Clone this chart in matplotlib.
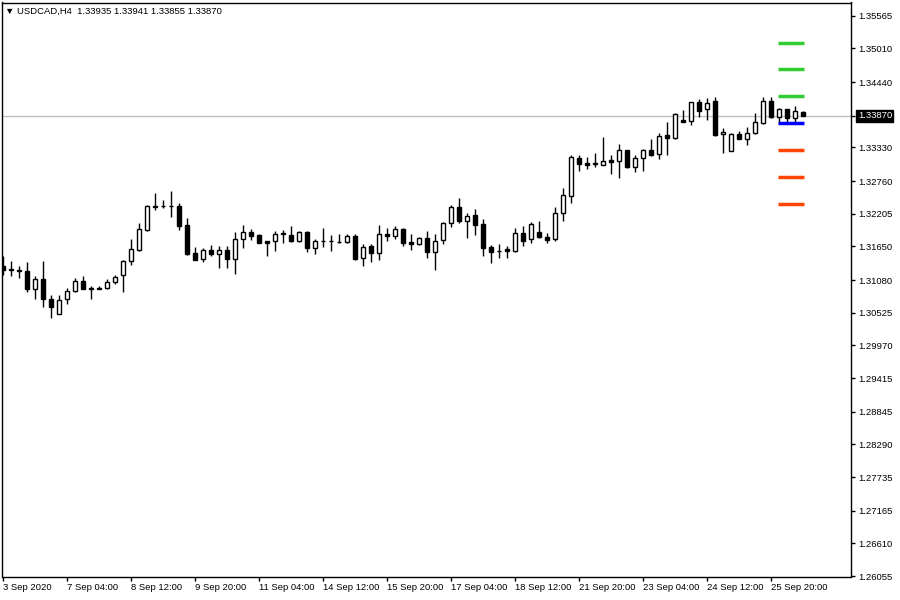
import matplotlib.pyplot as plt
import numpy as np

plt.rcParams['font.family'] = ['Liberation Sans', 'DejaVu Sans']

# USDCAD H4 bars, 3 Sep 20:00 .. 28 Sep
opens = [1.3132, 1.3126, 1.3125, 1.3124, 1.3093, 1.3110, 1.3076, 1.3051, 1.3075, 1.3090,
         1.3107, 1.3093, 1.3093, 1.3095, 1.3105, 1.3117, 1.3141, 1.3159, 1.3193, 1.3232,
         1.3233, 1.3234, 1.3234, 1.3202, 1.3154, 1.3144, 1.3159, 1.3153, 1.3159, 1.3144,
         1.3178, 1.3190, 1.3185, 1.3174, 1.3174, 1.3186, 1.3185, 1.3174, 1.3190, 1.3163,
         1.3174, 1.3175, 1.3173, 1.3173, 1.3183, 1.3146, 1.3166, 1.3154, 1.3186, 1.3183,
         1.3195, 1.3173, 1.3169, 1.3180, 1.3156, 1.3176, 1.3205, 1.3232, 1.3208, 1.3219,
         1.3203, 1.3164, 1.3158, 1.3161, 1.3158, 1.3188, 1.3178, 1.3190, 1.3181, 1.3178,
         1.3222, 1.3251, 1.3315, 1.3307, 1.3305, 1.3303, 1.3312, 1.3310, 1.3329, 1.3300,
         1.3315, 1.3329, 1.3322, 1.3354, 1.3349, 1.3380, 1.3378, 1.3410, 1.3398, 1.3412,
         1.3356, 1.3327, 1.3356, 1.3347, 1.3358, 1.3375, 1.3412, 1.3385, 1.3398, 1.3383,
         1.33935]
highs = [1.3149, 1.3141, 1.3132, 1.3139, 1.3115, 1.3141, 1.3083, 1.3083, 1.3095, 1.3112,
         1.3115, 1.3098, 1.3098, 1.3109, 1.3117, 1.3142, 1.3178, 1.3205, 1.3236, 1.3256,
         1.3244, 1.3259, 1.3239, 1.3213, 1.3164, 1.3163, 1.3168, 1.3166, 1.3166, 1.3190,
         1.3202, 1.3195, 1.3186, 1.3174, 1.3191, 1.3193, 1.3200, 1.3191, 1.3191, 1.3178,
         1.3197, 1.3185, 1.3186, 1.3186, 1.3186, 1.3169, 1.3169, 1.3202, 1.3197, 1.3200,
         1.3197, 1.3186, 1.3181, 1.3191, 1.3186, 1.3207, 1.3236, 1.3247, 1.3222, 1.3229,
         1.3212, 1.3168, 1.3169, 1.3166, 1.3197, 1.3200, 1.3207, 1.3209, 1.3188, 1.3232,
         1.3264, 1.3320, 1.3320, 1.3317, 1.3324, 1.3351, 1.3320, 1.3339, 1.3329, 1.3320,
         1.3331, 1.3347, 1.3358, 1.3376, 1.3392, 1.3397, 1.3410, 1.3415, 1.3417, 1.3419,
         1.3366, 1.3358, 1.3361, 1.3368, 1.3392, 1.3419, 1.3419, 1.3400, 1.3398, 1.3403,
         1.33941]
lows = [1.3117, 1.3115, 1.3112, 1.3088, 1.3076, 1.3062, 1.3044, 1.3051, 1.3068, 1.3087,
        1.3092, 1.3076, 1.3092, 1.3092, 1.3102, 1.3087, 1.3134, 1.3158, 1.3191, 1.3227,
        1.3230, 1.3215, 1.3193, 1.3151, 1.3142, 1.3139, 1.3149, 1.3129, 1.3129, 1.3119,
        1.3163, 1.3176, 1.3171, 1.3149, 1.3158, 1.3171, 1.3173, 1.3173, 1.3156, 1.3153,
        1.3164, 1.3158, 1.3171, 1.3171, 1.3142, 1.3132, 1.3139, 1.3142, 1.3174, 1.3178,
        1.3166, 1.3159, 1.3168, 1.3146, 1.3125, 1.3169, 1.3198, 1.3205, 1.3180, 1.3185,
        1.3148, 1.3137, 1.3146, 1.3146, 1.3156, 1.3166, 1.3171, 1.3180, 1.3171, 1.3174,
        1.3209, 1.3239, 1.3293, 1.3296, 1.3300, 1.3303, 1.3288, 1.3281, 1.3298, 1.3291,
        1.3293, 1.3319, 1.3314, 1.3320, 1.3347, 1.3376, 1.3371, 1.3385, 1.3380, 1.3353,
        1.3324, 1.3327, 1.3347, 1.3337, 1.3356, 1.3373, 1.3383, 1.3375, 1.3375, 1.3375,
        1.33855]
closes = [1.3125, 1.3125, 1.3124, 1.3092, 1.3109, 1.3076, 1.3062, 1.3074, 1.3090, 1.3107,
          1.3092, 1.3094, 1.3094, 1.3105, 1.3114, 1.3141, 1.3161, 1.3195, 1.3234, 1.3233,
          1.3234, 1.3233, 1.3200, 1.3153, 1.3142, 1.3159, 1.3153, 1.3159, 1.3144, 1.3178,
          1.3190, 1.3183, 1.3171, 1.3171, 1.3186, 1.3187, 1.3174, 1.3190, 1.3163, 1.3174,
          1.3175, 1.3174, 1.3172, 1.3183, 1.3144, 1.3164, 1.3154, 1.3186, 1.3183, 1.3195,
          1.3171, 1.3169, 1.3180, 1.3156, 1.3174, 1.3205, 1.3232, 1.3208, 1.3217, 1.3202,
          1.3163, 1.3156, 1.3157, 1.3158, 1.3188, 1.3174, 1.3203, 1.3181, 1.3176, 1.3222,
          1.3253, 1.3317, 1.3305, 1.3303, 1.3306, 1.3310, 1.3308, 1.3329, 1.3300, 1.3315,
          1.3329, 1.3320, 1.3353, 1.3349, 1.3390, 1.3376, 1.3410, 1.3395, 1.3408, 1.3354,
          1.3359, 1.3356, 1.3347, 1.3358, 1.3376, 1.3412, 1.3385, 1.3398, 1.3383, 1.3394,
          1.33870]

# levels drawn over the last bars
green_levels = [1.35097, 1.34657, 1.34204]
blue_level = 1.33741
red_levels = [1.33288, 1.32831, 1.32373]
last_price = 1.33870

yticks = [1.35565, 1.35010, 1.34440, 1.33870, 1.33330, 1.32760, 1.32205, 1.31650, 1.31080,
          1.30525, 1.29970, 1.29415, 1.28845, 1.28290, 1.27735, 1.27165, 1.26610, 1.26055]
xlabels = ['3 Sep 2020', '7 Sep 04:00', '8 Sep 12:00', '9 Sep 20:00', '11 Sep 04:00',
           '14 Sep 12:00', '15 Sep 20:00', '17 Sep 04:00', '18 Sep 12:00', '21 Sep 20:00',
           '23 Sep 04:00', '24 Sep 12:00', '25 Sep 20:00']

if __name__ == '__main__':
    fs = 6.8
    fig = plt.figure(figsize=(9, 6), dpi=100)
    ax = fig.add_axes([2/900, 1 - 576.5/600, 849/900, 574/600])

    o = np.array(opens)
    h = np.array(highs)
    l = np.array(lows)
    c = np.array(closes)
    x = np.arange(len(o))

    ax.axhline(last_price, color='#c0c0c0', linewidth=1, zorder=0)

    ax.vlines(x, l, h, color='black', linewidth=1, zorder=2)
    up = c >= o
    ax.bar(x, np.abs(c - o), bottom=np.minimum(o, c), width=0.62,
           color=np.where(up, 'white', 'black'), edgecolor='black', linewidth=1, zorder=3)

    ax.hlines(green_levels, 96.9, 100.1, color='#32cd32', linewidth=2.5, zorder=4)
    ax.hlines(blue_level, 96.9, 100.1, color='#0000ff', linewidth=2.5, zorder=4)
    ax.hlines(red_levels, 96.9, 100.1, color='#ff4500', linewidth=2.5, zorder=4)

    ax.set_xlim(-0.125, 106.0)
    ax.set_ylim(1.26050, 1.35789)

    ax.set_xticks(np.arange(0, 97, 8))
    ax.set_xticklabels(xlabels, ha='left', fontsize=fs)
    ax.yaxis.tick_right()
    ax.set_yticks(yticks)
    ax.set_yticklabels(['' if v == last_price else '%.5f' % v for v in yticks], fontsize=fs)
    ax.tick_params(axis='both', direction='out', length=3, width=1, pad=2, colors='black')

    for s in ax.spines.values():
        s.set_color('black')
        s.set_linewidth(1)

    ax.text(1.008, last_price, '%.5f' % last_price, transform=ax.get_yaxis_transform(),
            fontsize=fs, color='white', va='center', ha='left',
            bbox=dict(boxstyle='square,pad=0.15', facecolor='black', edgecolor='black'))

    ax.text(0.004, 0.985, '\u25bc USDCAD,H4  1.33935 1.33941 1.33855 1.33870',
            transform=ax.transAxes, fontsize=fs, va='center', ha='left')

    plt.savefig('out.png', dpi=100)
